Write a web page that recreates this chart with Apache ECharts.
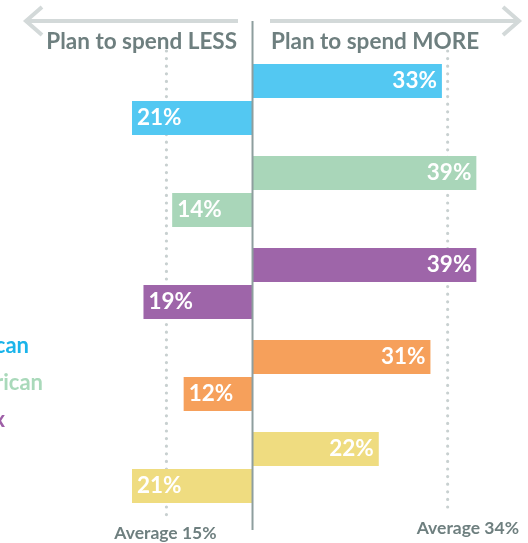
<!DOCTYPE html>
<html>
<head>
<meta charset="utf-8">
<script src="https://cdn.jsdelivr.net/npm/echarts@6/dist/echarts.min.js"></script>
<style>
  html, body { margin: 0; padding: 0; background: #ffffff; }
  #chart { width: 528px; height: 543px; }
</style>
</head>
<body>
<div id="chart"></div>
<script>
// Survey groups, top to bottom
const categories = ['Asian American', 'African American', 'Latinx', 'White', 'All respondents'];
// Share planning to spend more / less (%)
const spendMore = [33, 39, 39, 31, 22];
const spendLess = [21, 14, 19, 12, 21];
// Averages across all groups (%)
const avgMore = 34;
const avgLess = 15;
const headerLess = 'Plan to spend LESS';
const headerMore = 'Plan to spend MORE';
const avgLessLabel = 'Average ' + avgLess + '%';
const avgMoreLabel = 'Average ' + avgMore + '%';

const palette = ['#53c8f2', '#a9d6b9', '#9e65a9', '#f6a05b', '#efdc80'];
const legendColors = ['#1ab4ea', '#a9d9ba', '#9e5fa7'];
const gray = '#6e7f7f';
const font = 'Lato';

const chart = echarts.init(document.getElementById('chart'), null, { renderer: 'canvas' });

const pxPerUnit = 5.8;
const xMin = -44, xMax = 48;
const zeroPos = 254;

const labelBase = {
  show: true,
  color: '#ffffff',
  fontFamily: font,
  fontWeight: 'bold',
  fontSize: 22.5,
  distance: 5,
  formatter: p => Math.abs(p.value) + '%'
};

chart.setOption({
  animation: false,
  grid: {
    left: zeroPos + xMin * pxPerUnit,
    top: 53.5,
    width: (xMax - xMin) * pxPerUnit,
    height: 460,
    containLabel: false
  },
  xAxis: { type: 'value', min: xMin, max: xMax, show: false },
  yAxis: { type: 'category', data: categories, inverse: true, show: false },
  series: [
    {
      name: 'more',
      type: 'bar',
      barWidth: 34,
      barGap: '9%',
      z: 3,
      data: spendMore.map((v, i) => ({ value: v, itemStyle: { color: palette[i] } })),
      label: Object.assign({ position: 'insideRight' }, labelBase)
    },
    {
      name: 'less',
      type: 'bar',
      barWidth: 34,
      barGap: '9%',
      z: 3,
      data: spendLess.map((v, i) => ({ value: -v, itemStyle: { color: palette[i] } })),
      label: Object.assign({ position: 'insideLeft' }, labelBase)
    }
  ]
});

const zeroX = chart.convertToPixel({ xAxisIndex: 0 }, 0);
const moreAvgX = chart.convertToPixel({ xAxisIndex: 0 }, avgMore);
const lessAvgX = chart.convertToPixel({ xAxisIndex: 0 }, -avgLess);

const arrowStyle = { stroke: '#d3d9d9', lineWidth: 4, fill: null, lineJoin: 'miter' };
const dotStyle = { stroke: '#c8d0d0', lineWidth: 3.2, lineDash: [0, 7.6], lineCap: 'round' };

const legendEnds = [29, 43, 5];
const legendY = [346, 383, 420];

chart.setOption({
  graphic: [
    // direction arrows
    { type: 'polyline', z: 1, shape: { points: [[25, 21], [238, 21]] }, style: arrowStyle },
    { type: 'polyline', z: 1, shape: { points: [[42, 7], [26, 21], [42, 35]] }, style: arrowStyle },
    { type: 'polyline', z: 1, shape: { points: [[270, 21], [518, 21]] }, style: arrowStyle },
    { type: 'polyline', z: 1, shape: { points: [[503, 7], [519, 21], [503, 35]] }, style: arrowStyle },
    // headers
    { type: 'text', z: 5, x: 237, y: 42, style: { text: headerLess, fill: gray, font: 'bold 22.5px ' + font, textAlign: 'right', textVerticalAlign: 'middle' } },
    { type: 'text', z: 5, x: 271, y: 42, style: { text: headerMore, fill: gray, font: 'bold 22.5px ' + font, textAlign: 'left', textVerticalAlign: 'middle' } },
    // zero line
    { type: 'line', z: 5, shape: { x1: zeroX, y1: 21, x2: zeroX, y2: 530 }, style: { stroke: '#8e9e9e', lineWidth: 2 } },
    // average guides
    { type: 'line', z: 1, shape: { x1: lessAvgX, y1: 51, x2: lessAvgX, y2: 521 }, style: dotStyle },
    { type: 'line', z: 1, shape: { x1: moreAvgX, y1: 51, x2: moreAvgX, y2: 513 }, style: dotStyle },
    { type: 'text', z: 5, x: lessAvgX - 1, y: 533, style: { text: avgLessLabel, fill: gray, font: 'bold 17.5px ' + font, textAlign: 'center', textVerticalAlign: 'middle' } },
    { type: 'text', z: 5, x: 519, y: 528, style: { text: avgMoreLabel, fill: gray, font: 'bold 17.5px ' + font, textAlign: 'right', textVerticalAlign: 'middle' } },
    // group legend
    ...legendEnds.map((xe, i) => ({
      type: 'text', z: 5, x: xe, y: legendY[i],
      style: { text: categories[i], fill: legendColors[i], font: 'bold 22px ' + font, textAlign: 'right', textVerticalAlign: 'middle' }
    }))
  ]
});
</script>
</body>
</html>
